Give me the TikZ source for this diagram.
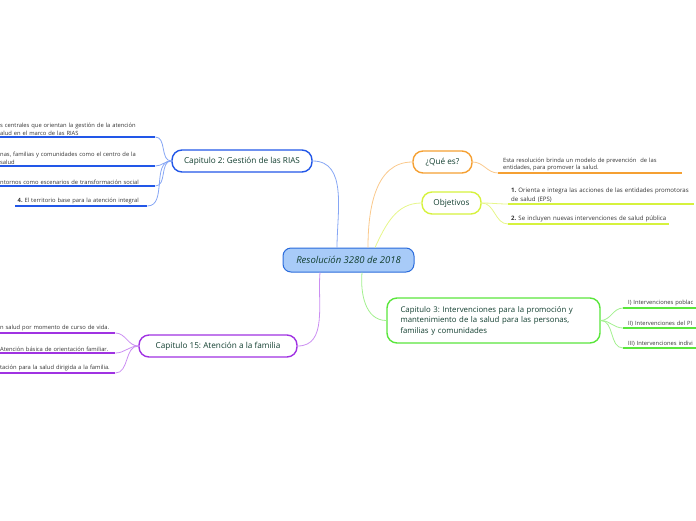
\documentclass[tikz,border=0pt]{standalone}
\usepackage{fontspec}
\setmainfont{Open Sans}
\usepackage{tikz}
\usepackage{xcolor}
\frenchspacing

\definecolor{inkgreen}{HTML}{123F30}
\definecolor{leafgray}{HTML}{333333}
\definecolor{rootblue}{HTML}{2A6BDC}
\definecolor{rootfill}{HTML}{A8CBF8}
\definecolor{capblue}{HTML}{2257E8}
\definecolor{capblueL}{HTML}{86A6F4}
\definecolor{qorange}{HTML}{F5A033}
\definecolor{qorangeL}{HTML}{FAC98C}
\definecolor{objlime}{HTML}{D6F23E}
\definecolor{objlimeL}{HTML}{E6F68A}
\definecolor{cappurple}{HTML}{A032E2}
\definecolor{cappurpleL}{HTML}{CB8EF2}
\definecolor{capgreen}{HTML}{5AE63C}
\definecolor{capgreenL}{HTML}{A2F08E}

\begin{document}
\begin{tikzpicture}[
  x=1pt, y=-1pt,
  font=\fontsize{5.8}{7.8}\selectfont,
  root/.style={draw=rootblue, fill=rootfill, rounded corners=8pt, line width=1pt,
    minimum width=131pt, minimum height=24pt, text=inkgreen,
    font=\fontsize{9.5}{11}\selectfont\itshape},
  topic/.style={draw, fill=white, rounded corners=10pt, line width=1.4pt,
    minimum height=22pt, inner sep=0pt, text=inkgreen,
    font=\fontsize{8.2}{10.5}\selectfont},
  leaf/.style={text=leafgray, align=left, inner xsep=5pt, inner ysep=1.5pt,
    anchor=south west},
  uline/.style={line width=2pt, draw=#1},
  link/.style={line width=0.8pt, draw=#1},
]
\clip (0,0) rectangle (696,520);

\node[root] (root) at (348.5,260) {Resolución 3280 de 2018};

% main topics
\node[topic, draw=capblue, minimum width=140pt] (cap2) at (242,161) {Capitulo 2: Gestión de las RIAS};
\node[topic, draw=qorange, minimum width=59pt] (que) at (442.5,162) {¿Qué es?};
\node[topic, draw=objlime, minimum width=59pt] (obj) at (451.5,203) {Objetivos};
\node[topic, draw=cappurple, minimum width=158pt] (cap15) at (218,346) {Capitulo 15: Atención a la familia};
\node[topic, draw=capgreen, minimum width=213pt, minimum height=45pt, align=left,
  text width=186pt, font=\fontsize{7.8}{10.5}\selectfont] (cap3) at (493.5,320.5)
  {Capitulo 3: Intervenciones para la promoción y\\
  mantenimiento de la salud para las personas,\\familias y comunidades};

\draw[link=capblueL] ([xshift=-11.5]root.north) to[out=90, in=0] (cap2.east);
\draw[link=qorangeL] ([xshift=19.5]root.north) to[out=90, in=180] (que.west);
\draw[link=objlimeL] ([xshift=26.5]root.north) to[out=65, in=180] (obj.west);
\draw[link=cappurpleL] ([xshift=-28.5]root.south) to[out=-95, in=0] (cap15.east);
\draw[link=capgreenL] ([xshift=13.5]root.south) to[out=-95, in=180] (cap3.west);

% Capitulo 2
\node[leaf, text width=150pt] (r1) at (-5,137) {s centrales que orientan la gestión de la atención\\alud en el marco de las RIAS};
\node[leaf, text width=150pt] (r2) at (-5,166) {nas, familias y comunidades como el centro de la\\salud};
\node[leaf, text width=150pt] (r3) at (-5,186) {ntornos como escenarios de transformación social};
\node[leaf, text width=127pt, inner xsep=2.5pt] (r4) at (15,206) {\textbf{4.} El territorio base para la atención integral};
\foreach \n in {r1,r2,r3,r4} {
  \draw[uline=capblue] (\n.south west) -- (\n.south east);
  \draw[link=capblueL] (cap2.west) to[out=180, in=0] (\n.south east);
}

% ¿Qué es?
\node[leaf, text width=174pt] (q1) at (498,173) {Esta resolución brinda un modelo de prevención~ de las\\entidades, para promover la salud.};
\draw[uline=qorange] (q1.south west) -- (q1.south east);
\draw[link=qorangeL] (que.east) to[out=0, in=180] (q1.south west);

% Objetivos
\node[leaf, text width=180pt, inner xsep=3pt, font=\fontsize{6.1}{8.6}\selectfont] (o1) at (508,204) {\mbox{\textbf{1.} Orienta e integra las acciones de las entidades promotoras}\\de salud (EPS)};
\node[leaf, text width=155pt, inner xsep=3pt, font=\fontsize{6.1}{8.6}\selectfont] (o2) at (508,224) {\mbox{\textbf{2.} Se incluyen nuevas intervenciones de salud pública}};
\foreach \n in {o1,o2} {
  \draw[uline=objlime] (\n.south west) -- (\n.south east);
  \draw[link=objlimeL] (obj.east) to[out=0, in=180] (\n.south west);
}

% Capitulo 3
\node[leaf, text width=100pt] (c1) at (623,308) {I) Intervenciones poblac};
\node[leaf, text width=100pt] (c2) at (623,328) {II) Intervenciones del PI};
\node[leaf, text width=100pt] (c3) at (623,348) {III) Intervenciones indivi};
\foreach \n in {c1,c2,c3} {
  \draw[uline=capgreen] (\n.south west) -- (\n.south east);
  \draw[link=capgreenL] (cap3.east) to[out=0, in=180] (\n.south west);
}

% Capitulo 15
\node[leaf, text width=110pt] (f1) at (-5,333) {n salud por momento de curso de vida.};
\node[leaf, text width=110pt] (f2) at (-5,353) {Atención básica de orientación familiar.};
\node[leaf, text width=110pt] (f3) at (-5,373) {tación para la salud dirigida a la familia.};
\foreach \n in {f1,f2,f3} {
  \draw[uline=cappurple] (\n.south west) -- (\n.south east);
  \draw[link=cappurpleL] (cap15.west) to[out=180, in=0] (\n.south east);
}

\end{tikzpicture}
\end{document}
